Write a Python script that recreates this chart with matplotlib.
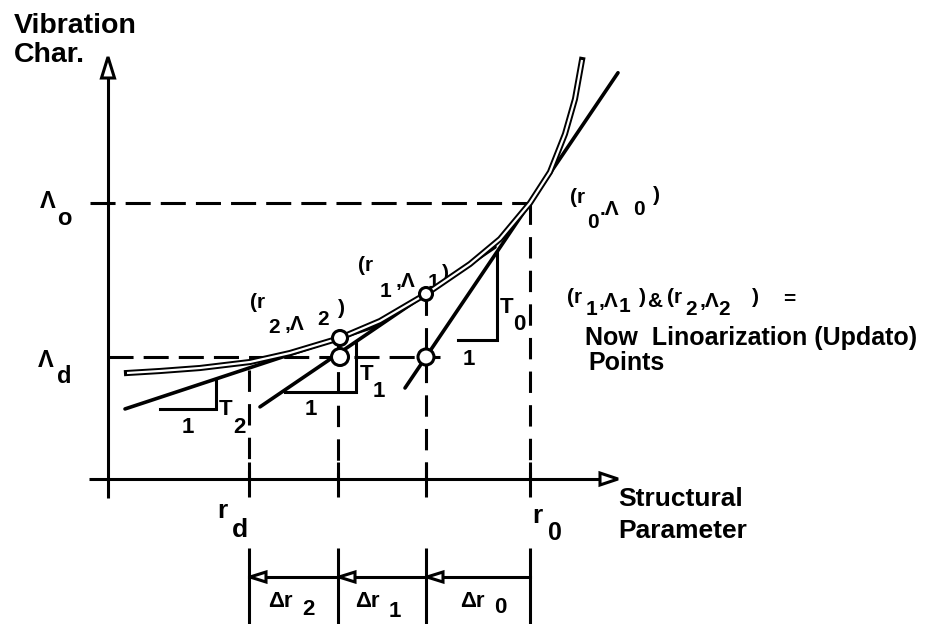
import matplotlib
matplotlib.use("Agg")
import matplotlib.pyplot as plt
from matplotlib.patches import Polygon, Circle

W, H = 937, 624
FAM = ["Liberation Sans", "DejaVu Sans"]

# Sketch units: horizontal = structural parameter r, vertical = vibration characteristic
r_names = ["d", "2", "1", "0"]
r_values = [249, 338, 426, 530]
lam_d = 267
lam_0 = 421
lam_1 = 330
lam_2 = 286

# exact characteristic curve
curve_r = [127, 160, 200, 250, 290, 340, 380, 426, 470, 500, 530, 550, 565, 575, 582]
curve_lam = [251, 253, 256, 262, 271, 286, 303, 330, 360, 385, 421, 452, 490, 525, 564]

# linearisations: tangency point, slope T_i and drawn extent
tan_r = [530, 426, 340]
tan_lam = [421, 330, 286]
tan_slope = [1.48, 0.68, 0.33]
tan_extent = [(405, 618), (260, 495), (125, 380)]
tan_names = ["0", "1", "2"]

# slope triangles: vertical-leg position, foot level, left end of run
tri_x = [497, 356, 216]
tri_foot = [284, 232, 215]
tri_left = [458, 285, 160]

axis_x, axis_y = 108, 145

fig = plt.figure(figsize=(W / 100, H / 100), dpi=100)
ax = fig.add_axes([0, 0, 1, 1])
ax.set_xlim(0, W)
ax.set_ylim(0, H)
ax.set_aspect("equal")
ax.axis("off")

LW = 2.2


def txt(x, y, s, size=16, **kw):
    ax.text(x, y, s, fontsize=size, fontweight="bold", family=FAM,
            ha="left", va="baseline", **kw)


# axes with hollow arrow heads
ax.plot([axis_x, axis_x], [126, 546], color="k", lw=LW, solid_capstyle="butt")
ax.plot([89, 600], [axis_y, axis_y], color="k", lw=LW, solid_capstyle="butt")
ax.add_patch(Polygon([[axis_x, 567], [axis_x - 6.5, 546], [axis_x + 6.5, 546]],
                     closed=True, fc="white", ec="k", lw=LW, zorder=5))
ax.add_patch(Polygon([[618, axis_y], [600, axis_y + 6], [600, axis_y - 6]],
                     closed=True, fc="white", ec="k", lw=LW, zorder=5))

# reference levels
ax.plot([90, r_values[3]], [lam_0, lam_0], color="k", lw=LW, dashes=(8.2, 3.3))
ax.plot([axis_x, 440], [lam_d, lam_d], color="k", lw=LW, dashes=(8.2, 3.3))

# vertical dashed guides from the curve down to the axis, with ticks
guide_top = [curve_lam[3] - 8, lam_2, lam_1, lam_0]
for rv, top in zip(r_values, guide_top):
    ax.plot([rv, rv], [top, axis_y], color="k", lw=LW, dashes=(7.0, 4.0))
    ax.plot([rv, rv], [127, 162], color="k", lw=LW, solid_capstyle="butt")

# tangent lines
for r0, l0, s, (xa, xb) in zip(tan_r, tan_lam, tan_slope, tan_extent):
    ax.plot([xa, xb], [l0 + s * (xa - r0), l0 + s * (xb - r0)],
            color="k", lw=2.6, solid_capstyle="round", zorder=3)

# slope triangles
for r0, l0, s, x, foot, left in zip(tan_r, tan_lam, tan_slope, tri_x, tri_foot, tri_left):
    top = l0 + s * (x - r0)
    ax.plot([left, x, x], [foot, foot, top], color="k", lw=LW,
            solid_joinstyle="miter", zorder=3)

# exact curve drawn as a double line
ax.plot(curve_r, curve_lam, color="k", lw=4.4, solid_capstyle="projecting",
        solid_joinstyle="round", zorder=4)
ax.plot(curve_r, curve_lam, color="white", lw=1.6, solid_capstyle="butt",
        solid_joinstyle="round", zorder=4.1)

# update points on the curve and their projections on the design level
for cx, cy, rad in [(r_values[2], lam_1, 6.5), (r_values[1] + 2, lam_2, 7.5)]:
    ax.add_patch(Circle((cx, cy), rad, fc="white", ec="k", lw=LW, zorder=6))
for cx, rad in [(r_values[1] + 2, 8.5), (r_values[2], 8)]:
    ax.add_patch(Circle((cx, lam_d), rad, fc="white", ec="k", lw=LW, zorder=6))

# step-size bracket below the axis
ax.plot([r_values[0], r_values[3]], [47, 47], color="k", lw=LW)
for rv in r_values:
    ax.plot([rv, rv], [0, 76], color="k", lw=LW, solid_capstyle="butt")
for rv in r_values[:3]:
    ax.add_patch(Polygon([[rv + 1, 47], [rv + 17, 52], [rv + 17, 42]],
                         closed=True, fc="white", ec="k", lw=LW, zorder=5))

# axis titles
txt(14, 591, "Vibration", 20.5)
txt(14, 562, "Char.", 20.5)
txt(618, 118, "Structural", 19)
txt(618, 86, "Parameter", 19)

# level labels
txt(40, 416, "Λ", 17)
txt(57, 399, "o", 17)
txt(38, 257, "Λ", 17)
txt(57, 241, "d", 17)

# parameter labels
txt(217, 106, "r", 19)
txt(232, 87, r_names[0], 19)
txt(532, 101, "r", 19)
txt(548, 84, r_names[3], 18)

# step labels
for x, (sub, y) in zip([268, 355, 460], [("2", 9), ("1", 7), ("0", 11)]):
    txt(x, 17, "Δr", 16)
    txt(x + 34, y, sub, 16)

# slope labels
txt(500, 311, "T", 16)
txt(513, 294, tan_names[0], 16)
txt(463, 259, "1", 16)
txt(360, 244, "T", 16)
txt(373, 227, tan_names[1], 16)
txt(305, 209, "1", 16)
txt(219, 209, "T", 16)
txt(233, 191, tan_names[2], 16)
txt(182, 191, "1", 16)

# point labels
txt(250, 316, "(r", 15)
txt(268, 291, "2", 15)
txt(285, 294, ",Λ", 15)
txt(317, 299, "2", 15)
txt(338, 310, ")", 15)

txt(358, 353, "(r", 15)
txt(380, 327, "1", 15)
txt(396, 337, ",Λ", 15)
txt(428, 336, "1", 15)
txt(442, 345, ")", 15)

txt(570, 421, "(r", 15)
txt(587, 396, "0", 15)
txt(600, 409, ".Λ", 15)
txt(633, 409, "0", 15)
txt(653, 423, ")", 15)

# explanatory note
txt(567, 321, "(r", 15)
txt(586, 309, "1", 15)
txt(599, 317, ",Λ", 15)
txt(619, 312, "1", 15)
txt(639, 321, ")", 15)
txt(647, 317, "&", 15)
txt(667, 321, "(r", 15)
txt(685, 309, "2", 15)
txt(700, 317, ",Λ", 15)
txt(718, 309, "2", 15)
txt(752, 321, ")", 15)
txt(783, 319, "=", 15)
txt(585, 279, "Now  Linoarization (Updato)", 18)
txt(588, 254, "Points", 18)

fig.savefig("out.png", dpi=100, facecolor="white")
